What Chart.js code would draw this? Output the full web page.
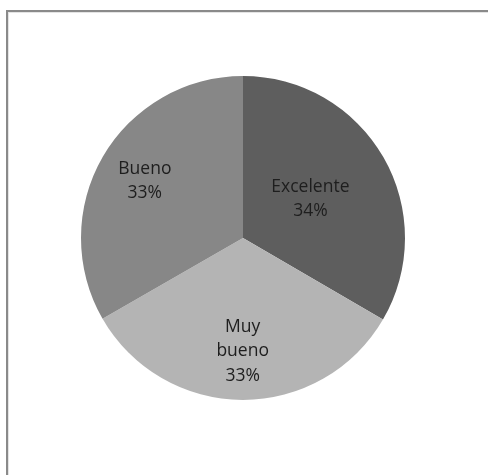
<!DOCTYPE html>
<html>
<head>
<meta charset="utf-8">
<script src="https://cdn.jsdelivr.net/npm/chart.js@4/dist/chart.umd.min.js"></script>
<style>
  html, body { margin: 0; padding: 0; background: #fff; }
  #wrap { position: relative; width: 488px; height: 475px; overflow: hidden; }
  #frame {
    position: absolute; left: 6px; top: 10px; width: 600px; height: 600px;
    border-left: 2px solid #8a8a8a; border-top: 2px solid #8a8a8a;
    box-shadow: inset 1px 1px 0 #e4e4e4;
  }
  canvas { position: absolute; left: 0; top: 0; }
</style>
</head>
<body>
<div id="wrap">
  <div id="frame"></div>
  <canvas id="pieCanvas" width="488" height="475"></canvas>
</div>
<script>
// Chart data
const categories = ['Excelente', 'Muy bueno', 'Bueno'];
const shares = [33.4, 33.3, 33.3];          // slice sizes as drawn
const percentLabels = ['34%', '33%', '33%']; // rounded labels shown
const nameLines = [['Excelente'], ['Muy', 'bueno'], ['Bueno']];
const sliceColors = ['#5e5e5e', '#b4b4b4', '#878787'];

// how far out (fraction of radius) each label sits
const labelRadius = [0.48, 0.7, 0.7];

const sliceLabels = {
  id: 'sliceLabels',
  afterDatasetsDraw(chart) {
    const ctx = chart.ctx;
    const meta = chart.getDatasetMeta(0);
    ctx.save();
    ctx.font = '17.5px "Open Sans", sans-serif';
    ctx.fillStyle = '#1e1e1e';
    ctx.textAlign = 'center';
    ctx.textBaseline = 'middle';
    meta.data.forEach((arc, i) => {
      const mid = (arc.startAngle + arc.endAngle) / 2;
      const r = arc.outerRadius * labelRadius[i];
      const x = arc.x + Math.cos(mid) * r;
      const y = arc.y + Math.sin(mid) * r;
      const lines = nameLines[i].concat([percentLabels[i]]);
      const lh = 24.5;
      lines.forEach((t, k) => {
        ctx.fillText(t, x, y + (k - (lines.length - 1) / 2) * lh);
      });
    });
    ctx.restore();
  }
};

const ctxPie = document.getElementById('pieCanvas').getContext('2d');
new Chart(ctxPie, {
  type: 'pie',
  data: {
    labels: categories,
    datasets: [{
      data: shares,
      backgroundColor: sliceColors,
      borderWidth: 0
    }]
  },
  options: {
    responsive: false,
    animation: false,
    layout: { padding: { left: 81, right: 83, top: 76, bottom: 75 } },
    plugins: {
      legend: { display: false },
      tooltip: { enabled: false }
    }
  },
  plugins: [sliceLabels]
});
</script>
</body>
</html>
